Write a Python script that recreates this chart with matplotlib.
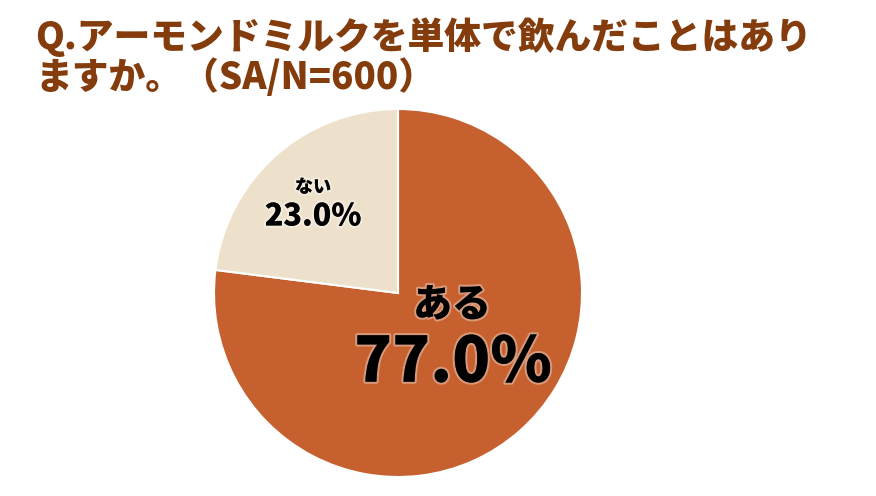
import matplotlib.pyplot as plt
import matplotlib.patheffects as pe

plt.rcParams['font.family'] = ['Noto Sans CJK JP', 'DejaVu Sans']

# data
labels = ['ある', 'ない']
values = [77.0, 23.0]
colors = ['#C6612F', '#EDE1CB']
title = 'Q.アーモンドミルクを単体で飲んだことはあり\nますか。（SA/N=600）'

fig = plt.figure(figsize=(8.76, 4.96), dpi=100)

# pie centre at (398, 293) px, radius 184 px
cx, cy, r = 398, 293, 184
ax = fig.add_axes([(cx - r) / 876, (496 - cy - r) / 496, 2 * r / 876, 2 * r / 496])
ax.pie(values, colors=colors, startangle=90, counterclock=False, radius=1,
       wedgeprops=dict(edgecolor='white', linewidth=1.5))
ax.set_xlim(-1, 1)
ax.set_ylim(-1, 1)
ax.set_aspect('equal')
ax.axis('off')

def px(x, y):
    return (x - cx) / r, (cy - y) / r

glow = [pe.withStroke(linewidth=3, foreground=(1, 1, 1, 0.35))]

x, y = px(452, 305)
ax.text(x, y, labels[0], ha='center', va='center', fontsize=28,
        fontweight='heavy', color='black', path_effects=glow)
x, y = px(453, 363)
ax.text(x, y, f'{values[0]:.1f}%', ha='center', va='center', fontsize=45,
        fontweight='heavy', color='black', path_effects=glow)

x, y = px(313, 187)
ax.text(x, y, labels[1], ha='center', va='center', fontsize=13,
        fontweight='heavy', color='black', path_effects=glow)
x, y = px(313, 216)
ax.text(x, y, f'{values[1]:.1f}%', ha='center', va='center', fontsize=22,
        fontweight='heavy', color='black', path_effects=glow)

fig.text(35 / 876, 1 - 17 / 496, title, ha='left', va='top', fontsize=26.5,
         fontweight='heavy', color='#843C0C', linespacing=1.05)

fig.savefig('out.png', dpi=100)
